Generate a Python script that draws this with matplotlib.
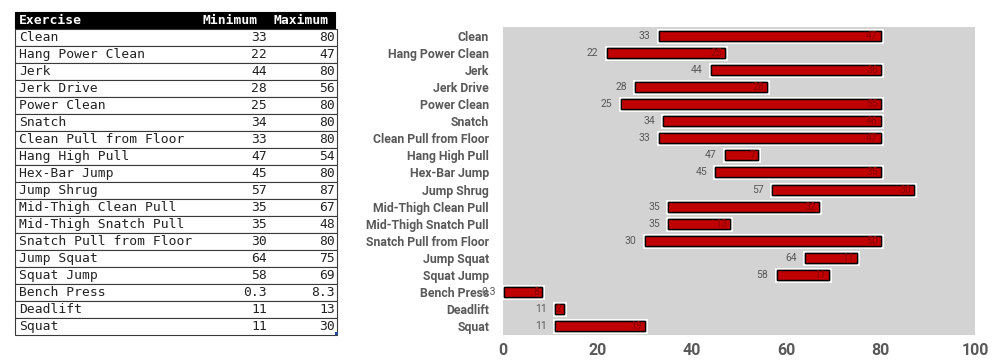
import matplotlib
matplotlib.use('Agg')
import matplotlib.pyplot as plt
import matplotlib.patches as mpatches
import matplotlib.patheffects as pe

exercises = ['Clean', 'Hang Power Clean', 'Jerk', 'Jerk Drive', 'Power Clean', 'Snatch',
             'Clean Pull from Floor', 'Hang High Pull', 'Hex-Bar Jump', 'Jump Shrug',
             'Mid-Thigh Clean Pull', 'Mid-Thigh Snatch Pull', 'Snatch Pull from Floor',
             'Jump Squat', 'Squat Jump', 'Bench Press', 'Deadlift', 'Squat']
minimum = [33, 22, 44, 28, 25, 34, 33, 47, 45, 57, 35, 35, 30, 64, 58, 0.3, 11, 11]
maximum = [80, 47, 80, 56, 80, 80, 80, 54, 80, 87, 67, 48, 80, 75, 69, 8.3, 13, 30]
xticks = [0, 20, 40, 60, 80, 100]

W, H = 998, 362
fig = plt.figure(figsize=(W / 100, H / 100), dpi=100)
fig.patch.set_facecolor('white')

narrow = ['Roboto', 'DejaVu Sans']
mono = 'DejaVu Sans Mono'
grey_txt = '#595959'


def px_axes(x0, y0, x1, y1):
    # axes placed with pixel coordinates (top-left origin)
    return fig.add_axes([x0 / W, (H - y1) / H, (x1 - x0) / W, (y1 - y0) / H])


# --- table on the left ---
tx0, tx1, ty0 = 15, 338, 12
rowh = 17
ty1 = ty0 + rowh * (len(exercises) + 1)
tab = px_axes(tx0, ty0, tx1, ty1)
tab.set_xlim(tx0, tx1)
tab.set_ylim(ty1, ty0)
tab.axis('off')

tab.add_patch(mpatches.Rectangle((tx0, ty0), tx1 - tx0 - 3, rowh, facecolor='black',
                                 edgecolor='black', lw=0.8, clip_on=False))
yc = ty0 + rowh / 2
tab.text(19, yc, 'Exercise', color='white', fontweight='bold', family=mono,
         fontsize=9.4, va='center', ha='left')
tab.text(258, yc, 'Minimum', color='white', fontweight='bold', family=mono,
         fontsize=9.4, va='center', ha='right')
tab.text(329, yc, 'Maximum', color='white', fontweight='bold', family=mono,
         fontsize=9.4, va='center', ha='right')

for i, (name, lo, hi) in enumerate(zip(exercises, minimum, maximum)):
    top = ty0 + rowh * (i + 1)
    tab.add_patch(mpatches.Rectangle((tx0, top), tx1 - tx0 - 1, rowh, facecolor='white',
                                     edgecolor='#3a3a3a', lw=0.8, clip_on=False))
    yc = top + rowh / 2
    tab.text(19, yc, name, color='#222222', family=mono, fontsize=9.4, va='center', ha='left')
    tab.text(267, yc, '%g' % lo, color='#222222', family=mono, fontsize=9.4, va='center', ha='right')
    tab.text(335, yc, '%g' % hi, color='#222222', family=mono, fontsize=9.4, va='center', ha='right')

tab.add_patch(mpatches.Rectangle((tx1 - 3, ty1 - 3), 3, 3, facecolor='#1f4e9a',
                                 edgecolor='none', clip_on=False))

# --- floating bar chart ---
ax = px_axes(503, 27, 975, 335)
ax.set_facecolor('#d3d3d3')
ypos = list(range(len(exercises)))
diff = [round(h - l, 1) for l, h in zip(minimum, maximum)]

bars = ax.barh(ypos, diff, left=minimum, height=0.58, color='#c00000',
               edgecolor='black', linewidth=1.0)
for b in bars:
    b.set_path_effects([pe.withStroke(linewidth=3.5, foreground='white'), pe.Normal()])

for y, lo, d in zip(ypos, minimum, diff):
    ax.annotate('%g' % lo, (lo, y), xytext=(-6, 0), textcoords='offset points',
                ha='right', va='center', fontsize=7.5, color=grey_txt, family=narrow)
    ax.annotate('%g' % d, (lo + d, y), xytext=(-2, 0), textcoords='offset points',
                ha='right', va='center', fontsize=7.5, color='#8a0000', family=narrow)

ax.set_xlim(0, 100)
ax.set_ylim(len(exercises) - 0.5, -0.5)
ax.set_xticks(xticks)
ax.set_xticklabels([str(t) for t in xticks], fontsize=11.5, fontweight='bold',
                   color=grey_txt, family=narrow)
ax.set_yticks(ypos)
ax.set_yticklabels(exercises, fontsize=8.8, fontweight='bold', color=grey_txt, family=narrow)
ax.tick_params(axis='both', length=0)
ax.tick_params(axis='y', pad=10)
ax.tick_params(axis='x', pad=6)
for spine in ax.spines.values():
    spine.set_visible(False)

fig.savefig('out.png', dpi=100)
